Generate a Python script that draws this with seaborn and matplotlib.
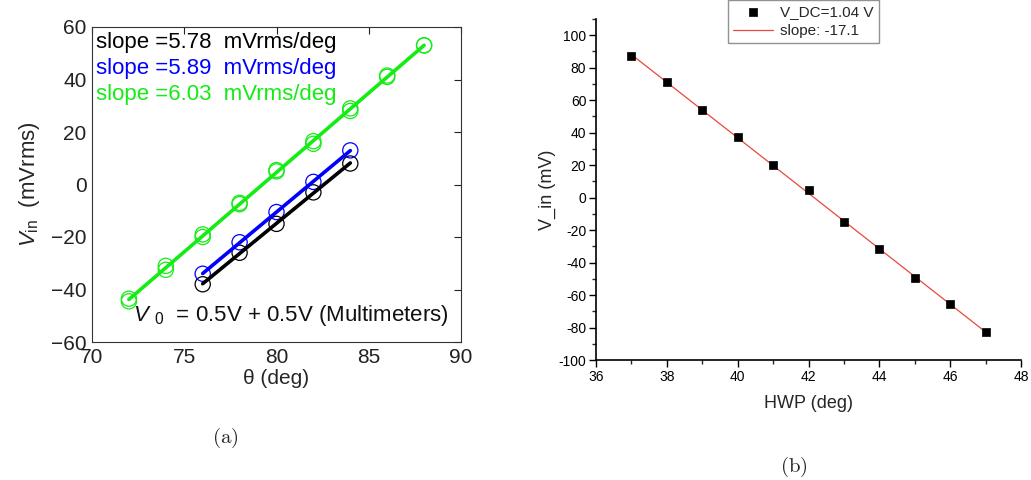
import numpy as np
import pandas as pd
import matplotlib
matplotlib.use("Agg")
import matplotlib.pyplot as plt
from matplotlib.ticker import MultipleLocator, FuncFormatter
import seaborn as sns

# ---------------- data ----------------
theta_green = [72, 74, 76, 78, 80, 82, 84, 86, 88]
green_a = [-43.5, -31, -19, -7, 5.5, 16.5, 29, 41, 53]
green_b = [-44.5, -32.5, -20, -7.5, 5, 15.5, 28, 41.5, 53]
theta_bk = [76, 78, 80, 82, 84]
blue_vals = [-34, -22, -10.5, 1, 13]
black_vals = [-38, -26, -15, -3, 8]
slope_labels = ["slope =5.78  mVrms/deg", "slope =5.89  mVrms/deg", "slope =6.03  mVrms/deg"]

hwp = [37, 38, 39, 40, 41, 42, 43, 44, 45, 46, 47]
vin = [87, 71, 54, 37.5, 20, 4.5, -15, -31.5, -49.5, -65.5, -83]

GREEN = "#14ec14"
BLUE = "#0000ff"

# ---------------- style ----------------
sns.set_style("white")
plt.rcParams["font.family"] = ["Liberation Sans", "DejaVu Sans"]
plt.rcParams["mathtext.fontset"] = "custom"
plt.rcParams["mathtext.rm"] = "Liberation Sans"
plt.rcParams["mathtext.it"] = "Liberation Sans:italic"

fig = plt.figure(figsize=(10.31, 4.8), dpi=100)
axL = fig.add_axes([92 / 1031, 1 - 342 / 480, (461 - 92) / 1031, (342 - 27) / 480])
axR = fig.add_axes([596 / 1031, 1 - 360 / 480, (1021 - 596) / 1031, (360 - 19) / 480])

# ---------------- left panel ----------------
df_g = pd.DataFrame({"theta": theta_green * 2, "v": green_a + green_b})
df_b = pd.DataFrame({"theta": theta_bk, "v": blue_vals})
df_k = pd.DataFrame({"theta": theta_bk, "v": black_vals})

for df, col in [(df_k, "black"), (df_b, BLUE), (df_g, GREEN)]:
    sns.scatterplot(data=df, x="theta", y="v", ax=axL, marker="o", s=120,
                    facecolors="none", edgecolor=col, linewidth=0.9, zorder=3)
for df, col in [(df_k, "black"), (df_b, BLUE), (df_g, GREEN)]:
    sns.regplot(data=df, x="theta", y="v", ax=axL, scatter=False, ci=None,
                color=col, line_kws={"linewidth": 2.6, "zorder": 4})

axL.set_xlim(70, 90)
axL.set_ylim(-60, 60)
axL.xaxis.set_major_locator(MultipleLocator(5))
axL.yaxis.set_major_locator(MultipleLocator(20))
axL.tick_params(direction="in", top=True, right=True, length=5, width=0.8,
                labelsize=15, colors="#222222", pad=4)
for sp in axL.spines.values():
    sp.set_color("#333333")
    sp.set_linewidth(0.8)
axL.set_xlabel("θ (deg)", fontsize=15, labelpad=2)
axL.set_ylabel(r"$V_{\rm in}$  (mVrms)", fontsize=16, labelpad=6)

for i, (lab, col) in enumerate(zip(slope_labels, ["black", BLUE, GREEN])):
    axL.text(0.012, 0.985 - i * 0.083, lab, transform=axL.transAxes, color=col,
             fontsize=16, va="top", ha="left")
axL.text(0.11, 0.045, r"$V_{\,\,\,0}$  = 0.5V + 0.5V (Multimeters)",
         transform=axL.transAxes, fontsize=16, va="bottom", ha="left", color="#111111")

# ---------------- right panel ----------------
df_r = pd.DataFrame({"hwp": hwp, "vin": vin})
sns.regplot(data=df_r, x="hwp", y="vin", ax=axR, scatter=False, ci=None,
            color="#e8483c", line_kws={"linewidth": 0.9, "zorder": 2},
            label="slope: -17.1")
sns.scatterplot(data=df_r, x="hwp", y="vin", ax=axR, marker="s", s=40,
                color="black", edgecolor="black", linewidth=0.5, zorder=3,
                label="V_DC=1.04 V")

axR.set_xlim(36, 48)
axR.set_ylim(-100, 110)
axR.xaxis.set_major_locator(MultipleLocator(2))
axR.xaxis.set_minor_locator(MultipleLocator(1))
axR.yaxis.set_major_locator(MultipleLocator(20))
axR.yaxis.set_minor_locator(MultipleLocator(10))
fmt = FuncFormatter(lambda v, p: f"{v:g}")
axR.xaxis.set_major_formatter(fmt)
axR.yaxis.set_major_formatter(fmt)
axR.set_yticks([t for t in range(-100, 101, 20)])
axR.tick_params(which="major", direction="out", length=5, width=1.0,
                labelsize=10, colors="black", pad=2, bottom=True, left=True)
axR.tick_params(which="minor", direction="out", length=3, width=1.0,
                bottom=True, left=True)
for s in ["top", "right"]:
    axR.spines[s].set_visible(False)
for s in ["left", "bottom"]:
    axR.spines[s].set_color("black")
    axR.spines[s].set_linewidth(1.2)
axR.set_xlabel("HWP (deg)", fontsize=13, labelpad=8)
axR.set_ylabel("V_in (mV)", fontsize=13, labelpad=2)

handles, labels = axR.get_legend_handles_labels()
order = [labels.index("V_DC=1.04 V"), labels.index("slope: -17.1")]
leg = axR.legend([handles[i] for i in order], [labels[i] for i in order],
                 loc="upper center", bbox_to_anchor=(803.5 / 1031, 1.0),
                 bbox_transform=fig.transFigure, fontsize=11, frameon=True,
                 fancybox=False, edgecolor="#777777", handlelength=2.6,
                 borderpad=0.35, labelspacing=0.3, handletextpad=0.5,
                 borderaxespad=0)
leg.get_frame().set_linewidth(1.0)

# ---------------- captions ----------------
fig.text(225 / 1031, 1 - 438 / 480, r"$\mathrm{(a)}$", math_fontfamily="cm",
         fontsize=15, ha="center", va="center")
fig.text(794 / 1031, 1 - 467 / 480, r"$\mathrm{(b)}$", math_fontfamily="cm",
         fontsize=15, ha="center", va="center")

fig.savefig("out.png", dpi=100)
